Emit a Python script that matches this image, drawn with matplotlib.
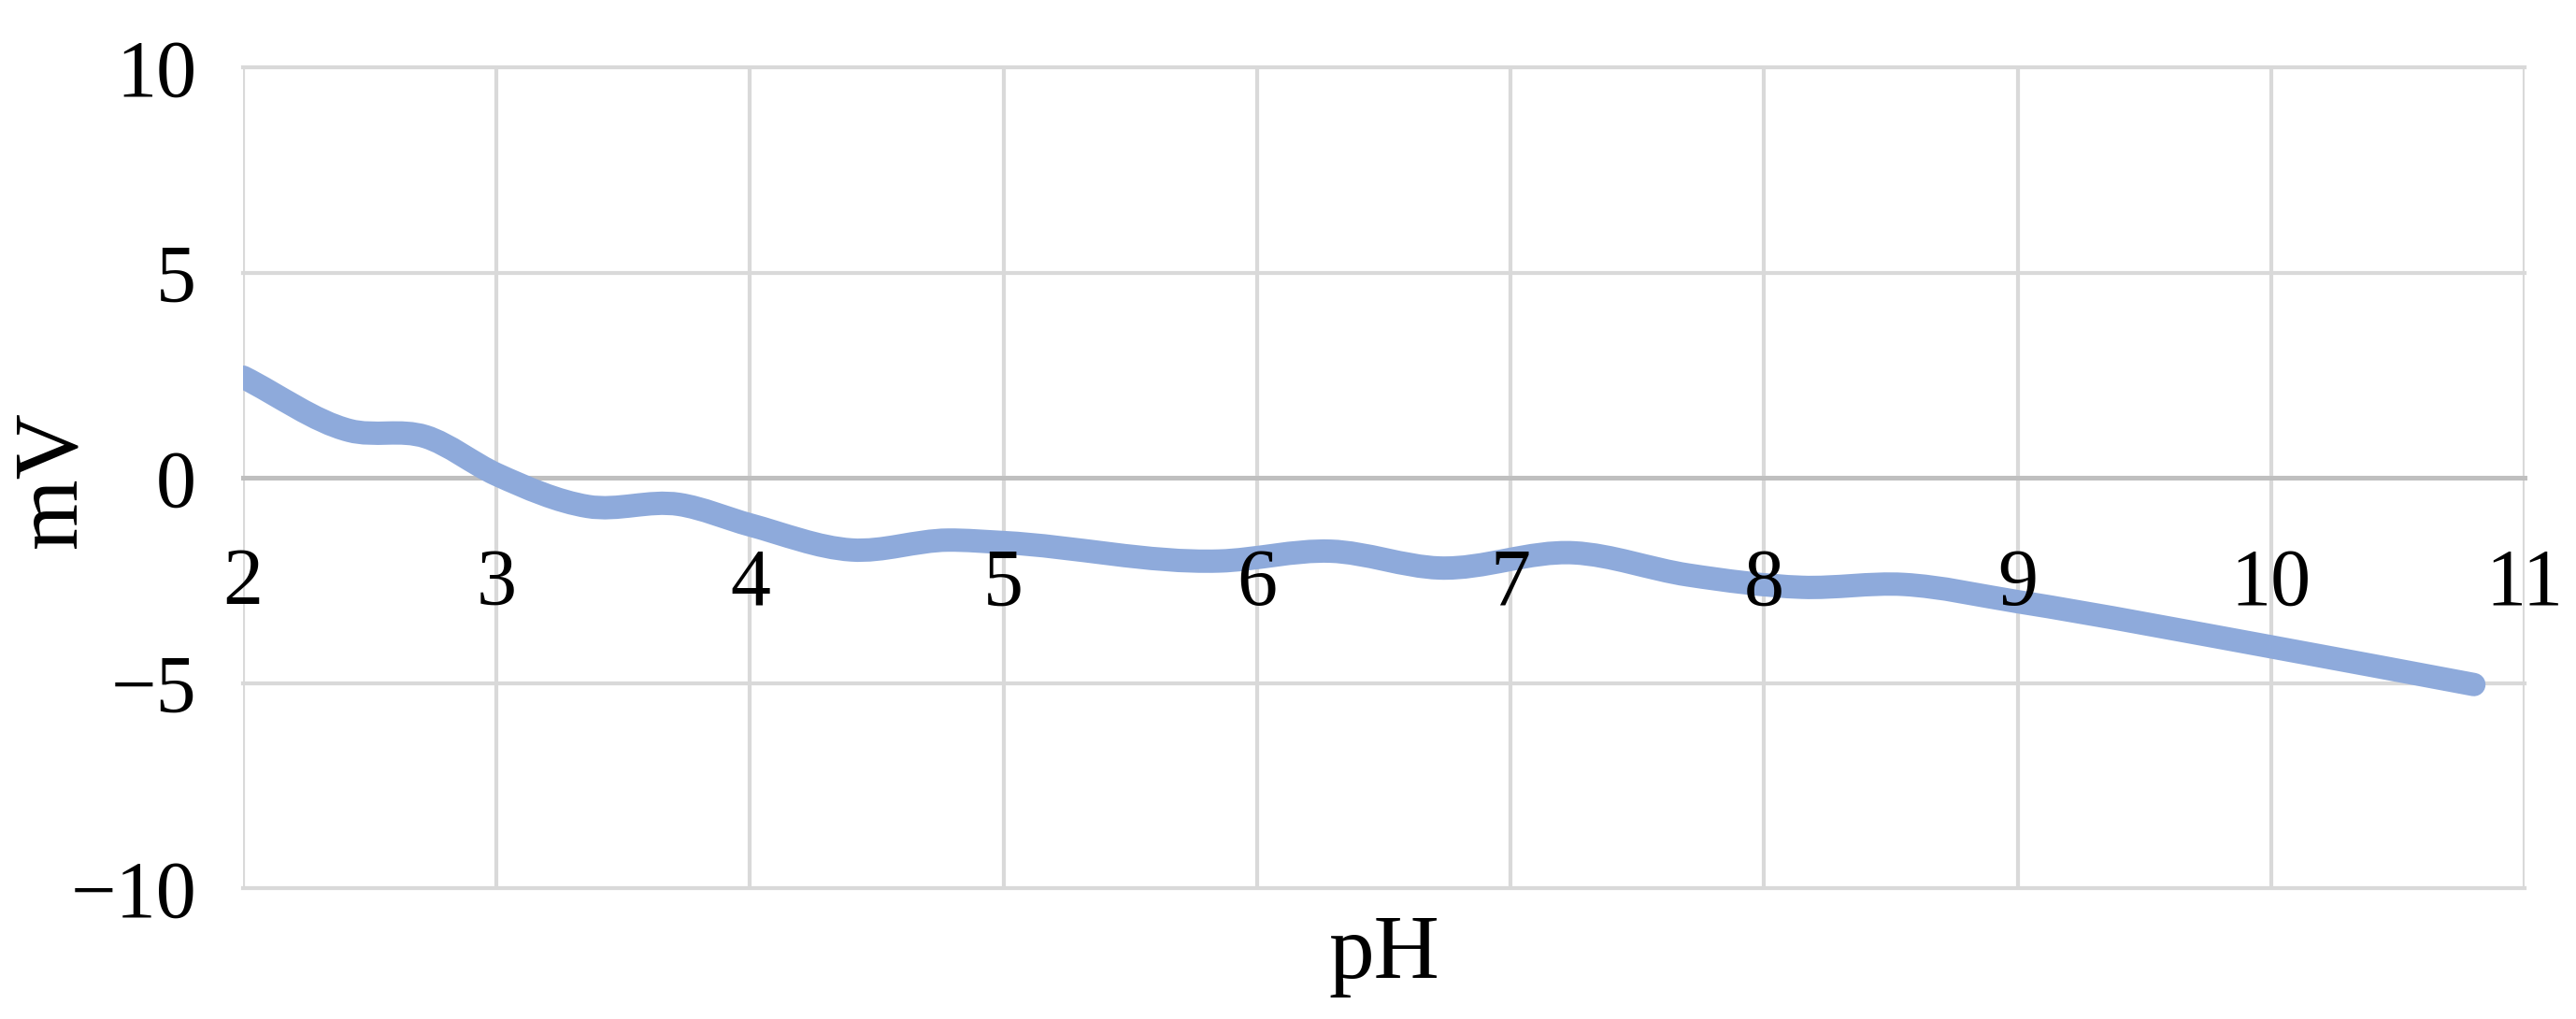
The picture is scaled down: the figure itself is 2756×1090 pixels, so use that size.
import numpy as np
import matplotlib
matplotlib.use("Agg")
import matplotlib.pyplot as plt
from matplotlib.path import Path
from matplotlib.patches import PathPatch

# ---- data ----
ph = [2.0, 2.42, 2.72, 3.0, 3.36, 3.72, 4.0, 4.4, 4.78, 5.0, 5.85, 6.29, 6.72, 7.25, 7.7, 8.15, 8.55, 9.0, 10.0, 10.8]
mv = [2.45, 1.15, 1.0, 0.08, -0.70, -0.65, -1.15, -1.76, -1.52, -1.58, -2.03, -1.79, -2.20, -1.83, -2.37, -2.67, -2.60, -3.02, -4.12, -5.04]
x_ticks = [2, 3, 4, 5, 6, 7, 8, 9, 10, 11]
y_ticks = [-10, -5, 0, 5, 10]
x_label = "pH"
y_label = "mV"

plt.rcParams["font.family"] = ["Liberation Serif", "DejaVu Serif"]
plt.rcParams["axes.unicode_minus"] = True

W, H, DPI = 2756, 1090, 200
fig = plt.figure(figsize=(W / DPI, H / DPI), dpi=DPI)
rect = [260 / W, 1 - 950 / H, (2701 - 260) / W, (950 - 72) / H]
ax = fig.add_axes(rect)

ax.set_xlim(2, 11)
ax.set_ylim(-10, 10)
ax.set_xticks(x_ticks)
ax.set_yticks(y_ticks)
ax.set_yticklabels([("\u2212" + str(-v)) if v < 0 else str(v) for v in y_ticks])

grid_c = "#d9d9d9"
ax.grid(True, color=grid_c, linewidth=1.5)
for gl in ax.get_xgridlines() + ax.get_ygridlines():
    gl.set_clip_on(False)
ax.set_axisbelow(True)

for s in ["left", "right", "top"]:
    ax.spines[s].set_visible(False)
ax.spines["bottom"].set_position(("data", 0))
ax.spines["bottom"].set_color("#bfbfbf")
ax.spines["bottom"].set_linewidth(1.8)

ax.tick_params(axis="x", length=0, labelbottom=False)
ax.tick_params(axis="y", length=0, pad=18, labelsize=31, colors="black")

# smooth curve: cubic Hermite (Bezier) segments through data points
x = np.asarray(ph, float)
y = np.asarray(mv, float)
n = len(x)
m = np.zeros(n)
for i in range(n):
    if i == 0:
        m[i] = (y[1] - y[0]) / (x[1] - x[0])
    elif i == n - 1:
        m[i] = (y[-1] - y[-2]) / (x[-1] - x[-2])
    else:
        s0 = (y[i] - y[i - 1]) / (x[i] - x[i - 1])
        s1 = (y[i + 1] - y[i]) / (x[i + 1] - x[i])
        h0 = x[i] - x[i - 1]
        h1 = x[i + 1] - x[i]
        m[i] = (s0 * h1 + s1 * h0) / (h0 + h1)
verts = [(x[0], y[0])]
codes = [Path.MOVETO]
for i in range(n - 1):
    h = x[i + 1] - x[i]
    verts += [(x[i] + h / 3, y[i] + m[i] * h / 3),
              (x[i + 1] - h / 3, y[i + 1] - m[i + 1] * h / 3),
              (x[i + 1], y[i + 1])]
    codes += [Path.CURVE4] * 3
patch = PathPatch(Path(verts, codes), facecolor="none", edgecolor="#8eaadb",
                  linewidth=9, capstyle="round", joinstyle="round", zorder=3)
ax.add_patch(patch)

# overlay axes carrying the x tick labels (drawn above the curve, as in the original)
ax2 = fig.add_axes(rect, sharex=ax, sharey=ax)
ax2.patch.set_visible(False)
for s in ["left", "right", "top"]:
    ax2.spines[s].set_visible(False)
ax2.spines["bottom"].set_position(("data", 0))
ax2.spines["bottom"].set_visible(False)
ax2.tick_params(axis="x", length=0, pad=27, labelsize=31, colors="black")
ax2.tick_params(axis="y", length=0, labelleft=False)
ax2.grid(False)

fig.text(1481 / W, 1 - 1046 / H, x_label, ha="center", va="baseline", fontsize=35)
fig.text(57 / W, 1 - 513 / H, y_label, ha="center", va="center", rotation=90, fontsize=35)

fig.savefig("out.png", dpi=DPI, facecolor="white")
